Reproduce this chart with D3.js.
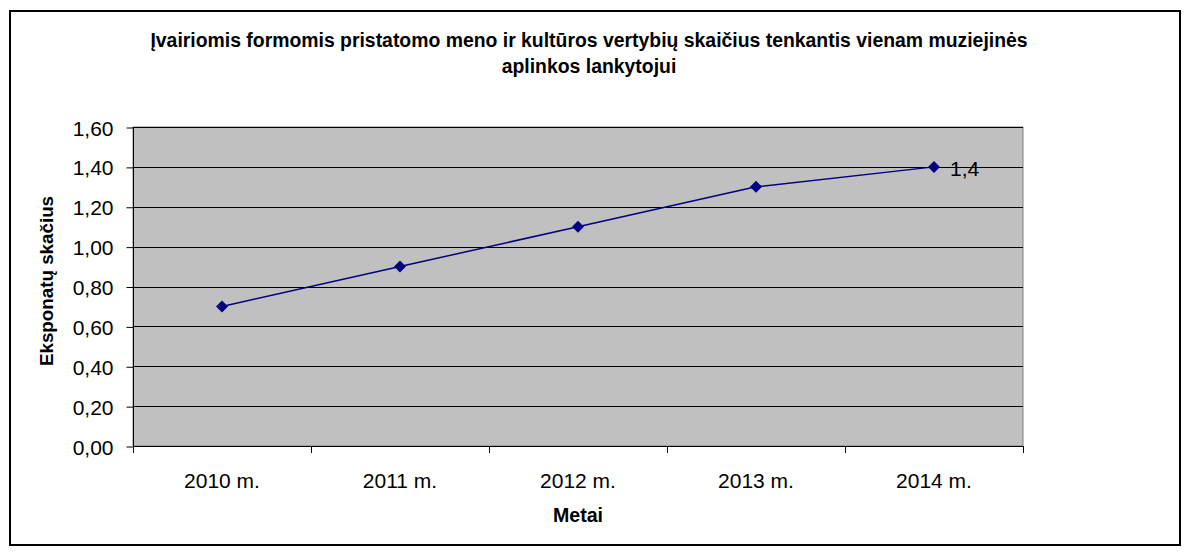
<!DOCTYPE html>
<html>
<head>
<meta charset="utf-8">
<script src="https://cdn.jsdelivr.net/npm/d3@7"></script>
<style>
  body { margin: 0; background: #fff; }
  text { font-family: "Liberation Sans", Arial, sans-serif; }
</style>
</head>
<body>
<svg id="chart" width="1190" height="552"></svg>
<script>
// data
var years = ["2010 m.", "2011 m.", "2012 m.", "2013 m.", "2014 m."];
var values = [0.70, 0.90, 1.10, 1.30, 1.40];
var yTicks = [0, 0.2, 0.4, 0.6, 0.8, 1.0, 1.2, 1.4, 1.6];
var titleLines = [
    "Įvairiomis formomis pristatomo meno ir kultūros vertybių skaičius tenkantis vienam muziejinės",
    "aplinkos lankytojui"
];

var svg = d3.select("#chart");

// outer frame
svg.append("rect")
    .attr("x", 10).attr("y", 11)
    .attr("width", 1170).attr("height", 534)
    .attr("fill", "#fff")
    .attr("stroke", "#000")
    .attr("stroke-width", 2);

var plot = { left: 133, top: 127, right: 1023, bottom: 446 };

var x = d3.scaleBand()
    .domain(years)
    .range([plot.left, plot.right]);

var y = d3.scaleLinear()
    .domain([0, 1.6])
    .range([plot.bottom, plot.top]);

var fmt = function (d) { return d3.format(".2f")(d).replace(".", ","); };

// plot background
svg.append("rect")
    .attr("x", plot.left).attr("y", plot.top)
    .attr("width", plot.right - plot.left)
    .attr("height", plot.bottom - plot.top)
    .attr("fill", "#c0c0c0")
    .attr("stroke", "#808080")
    .attr("stroke-width", 1);

// gridlines
svg.append("g")
    .selectAll("line")
    .data(yTicks.slice(1))
    .enter().append("line")
    .attr("x1", plot.left).attr("x2", plot.right)
    .attr("y1", function (d) { return Math.round(y(d)) + 0.5; })
    .attr("y2", function (d) { return Math.round(y(d)) + 0.5; })
    .attr("stroke", "#000")
    .attr("stroke-width", 1);

// y axis
var yAxis = svg.append("g")
    .attr("transform", "translate(" + (plot.left + 0.5) + ",0.5)")
    .call(d3.axisLeft(y).tickValues(yTicks).tickFormat(fmt).tickSize(7).tickPadding(13));
yAxis.select(".domain").attr("stroke", "#000").attr("d", "M0," + plot.top + "V" + (plot.bottom + 6));
yAxis.selectAll(".tick line").attr("stroke", "#000");
yAxis.selectAll("text")
    .attr("font-size", 21)
    .attr("fill", "#000")
    .attr("dy", "0.36em")
    .attr("font-family", "Liberation Sans, Arial, sans-serif");

// x axis (ticks at band boundaries)
var xAxisG = svg.append("g");
xAxisG.append("line")
    .attr("x1", plot.left).attr("x2", plot.right)
    .attr("y1", plot.bottom + 0.5).attr("y2", plot.bottom + 0.5)
    .attr("stroke", "#000");
var bounds = years.map(function (d) { return x(d); }).concat([x(years[years.length - 1]) + x.bandwidth()]);
xAxisG.selectAll("line.tk")
    .data(bounds)
    .enter().append("line")
    .attr("class", "tk")
    .attr("x1", function (d) { return Math.round(d) + 0.5; })
    .attr("x2", function (d) { return Math.round(d) + 0.5; })
    .attr("y1", plot.bottom).attr("y2", plot.bottom + 7)
    .attr("stroke", "#000");
xAxisG.selectAll("text")
    .data(years)
    .enter().append("text")
    .attr("x", function (d) { return x(d) + x.bandwidth() / 2; })
    .attr("y", 488)
    .attr("text-anchor", "middle")
    .attr("font-size", 21)
    .text(function (d) { return d; });

// line
var line = d3.line()
    .x(function (d, i) { return x(years[i]) + x.bandwidth() / 2; })
    .y(function (d) { return y(d); });

svg.append("path")
    .datum(values)
    .attr("d", line)
    .attr("fill", "none")
    .attr("stroke", "#000080")
    .attr("stroke-width", 1.5);

// markers
svg.append("g")
    .selectAll("path")
    .data(values)
    .enter().append("path")
    .attr("transform", function (d, i) {
        return "translate(" + (x(years[i]) + x.bandwidth() / 2) + "," + y(d) + ")";
    })
    .attr("d", "M0,-6L6,0L0,6L-6,0Z")
    .attr("fill", "#000080");

// data label on last point
var last = values.length - 1;
svg.append("text")
    .attr("x", x(years[last]) + x.bandwidth() / 2 + 16)
    .attr("y", y(values[last]) + 9)
    .attr("font-size", 21)
    .text(String(values[last]).replace(".", ","));

// title
svg.append("g")
    .selectAll("text")
    .data(titleLines)
    .enter().append("text")
    .attr("x", 589)
    .attr("y", function (d, i) { return 47 + i * 26; })
    .attr("text-anchor", "middle")
    .attr("font-size", 19.4)
    .attr("font-weight", "bold")
    .text(function (d) { return d; });

// axis titles
svg.append("text")
    .attr("x", 578).attr("y", 522)
    .attr("text-anchor", "middle")
    .attr("font-size", 19.6)
    .attr("font-weight", "bold")
    .text("Metai");

svg.append("text")
    .attr("transform", "translate(53,281) rotate(-90)")
    .attr("text-anchor", "middle")
    .attr("font-size", 18.8)
    .attr("font-weight", "bold")
    .text("Eksponatų skačius");
</script>
</body>
</html>
